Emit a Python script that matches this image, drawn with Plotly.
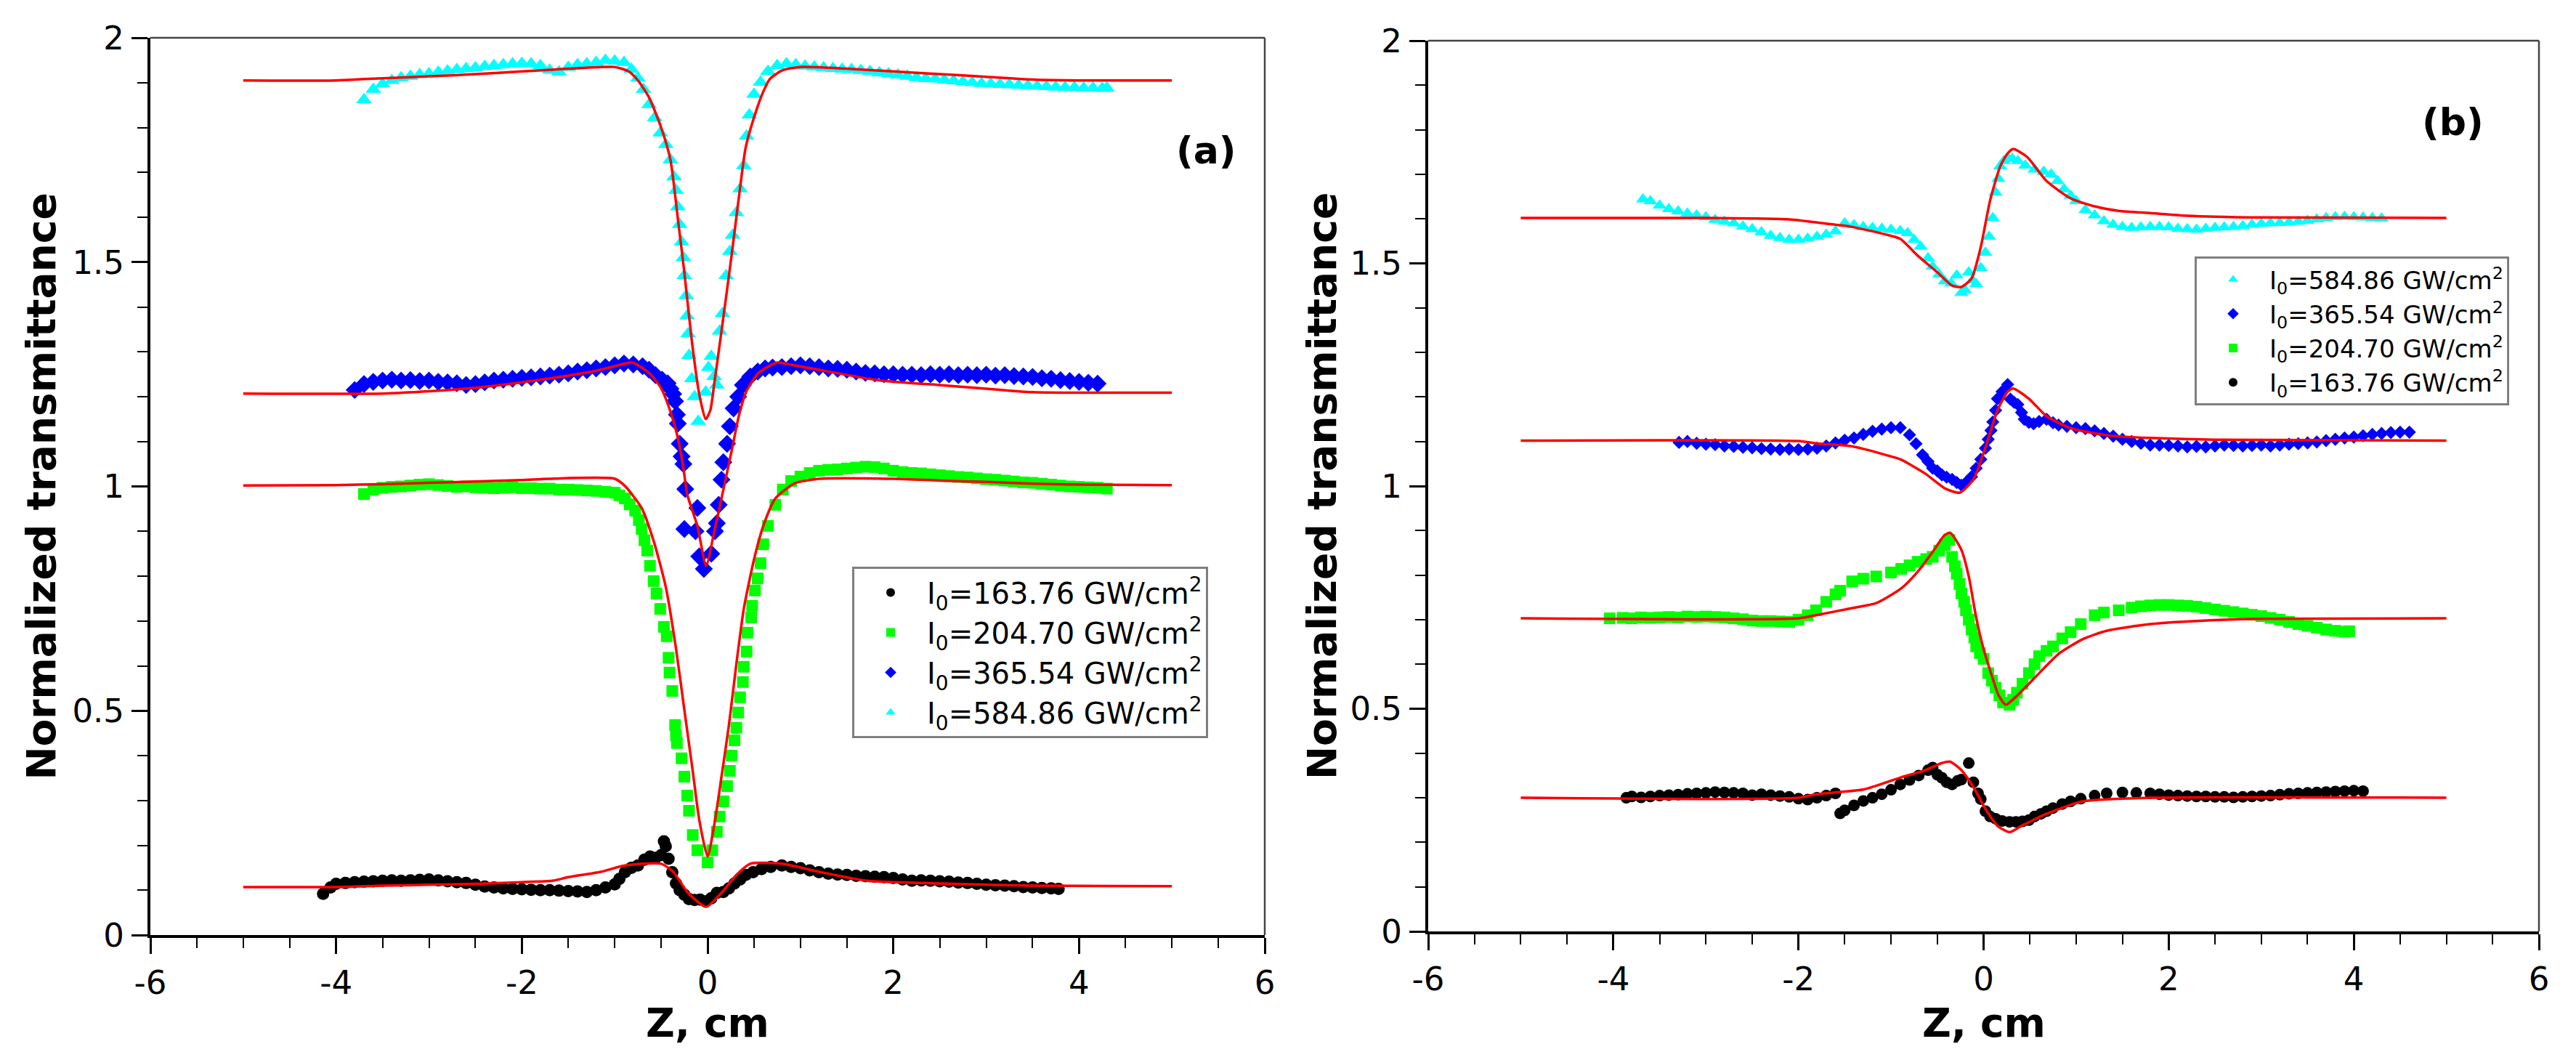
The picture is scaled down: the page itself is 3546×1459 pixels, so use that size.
#!/usr/bin/env python3
"""
Z-scan traces: open aperture (a) and closed aperture (b), four peak
intensities each, measured points with the fitted curves in red.
"""

import plotly.graph_objects as go

# ---- panel (a): (z, cm ; normalized transmittance) ----
A_163 = [(-4.14, 0.092), (-4.06, 0.106), (-4.00, 0.114), (-3.90, 0.116), (-3.80, 0.118), (-3.70, 0.119),
         (-3.60, 0.120), (-3.50, 0.121), (-3.40, 0.122), (-3.30, 0.121), (-3.20, 0.122), (-3.10, 0.123),
         (-3.00, 0.124), (-2.90, 0.122), (-2.80, 0.120), (-2.70, 0.118), (-2.60, 0.116), (-2.50, 0.112),
         (-2.40, 0.108), (-2.30, 0.106), (-2.20, 0.104), (-2.10, 0.103), (-2.00, 0.102), (-1.90, 0.101),
         (-1.80, 0.100), (-1.70, 0.100), (-1.60, 0.099), (-1.50, 0.098), (-1.40, 0.097), (-1.30, 0.096),
         (-1.20, 0.100), (-1.10, 0.106), (-1.00, 0.113), (-0.95, 0.125), (-0.89, 0.140), (-0.82, 0.150),
         (-0.75, 0.155), (-0.68, 0.168), (-0.62, 0.175), (-0.56, 0.172), (-0.50, 0.178), (-0.47, 0.209),
         (-0.45, 0.198), (-0.42, 0.170), (-0.38, 0.140), (-0.34, 0.115), (-0.30, 0.100), (-0.25, 0.090),
         (-0.20, 0.080), (-0.14, 0.078), (-0.08, 0.079), (-0.02, 0.075), (0.04, 0.082), (0.10, 0.094),
         (0.17, 0.096), (0.23, 0.104), (0.29, 0.115), (0.35, 0.124), (0.41, 0.134), (0.49, 0.140),
         (0.58, 0.147), (0.68, 0.152), (0.80, 0.155), (0.90, 0.152), (1.00, 0.149), (1.10, 0.144),
         (1.20, 0.140), (1.30, 0.137), (1.40, 0.135), (1.50, 0.134), (1.60, 0.132), (1.70, 0.131),
         (1.80, 0.130), (1.90, 0.129), (2.00, 0.127), (2.10, 0.124), (2.20, 0.121), (2.30, 0.122),
         (2.40, 0.121), (2.50, 0.120), (2.60, 0.119), (2.70, 0.117), (2.80, 0.116), (2.90, 0.114),
         (3.00, 0.112), (3.10, 0.111), (3.20, 0.110), (3.30, 0.109), (3.40, 0.107), (3.50, 0.106),
         (3.60, 0.105), (3.70, 0.104), (3.78, 0.103)]
A_204 = [(-3.70, 0.983), (-3.60, 0.993), (-3.50, 0.997), (-3.40, 0.999), (-3.30, 1.000), (-3.20, 1.002),
         (-3.10, 1.004), (-3.00, 1.005), (-2.90, 1.003), (-2.80, 1.001), (-2.70, 0.999), (-2.60, 1.000),
         (-2.50, 0.998), (-2.40, 0.997), (-2.30, 0.996), (-2.20, 0.997), (-2.10, 0.998), (-2.00, 0.996),
         (-1.90, 0.996), (-1.80, 0.995), (-1.70, 0.995), (-1.60, 0.993), (-1.50, 0.993), (-1.40, 0.992),
         (-1.30, 0.991), (-1.20, 0.990), (-1.10, 0.988), (-1.00, 0.986), (-0.95, 0.980), (-0.89, 0.973),
         (-0.84, 0.960), (-0.78, 0.946), (-0.74, 0.925), (-0.71, 0.905), (-0.68, 0.880), (-0.65, 0.857),
         (-0.62, 0.823), (-0.58, 0.789), (-0.55, 0.761), (-0.51, 0.727), (-0.47, 0.687), (-0.44, 0.666),
         (-0.42, 0.618), (-0.41, 0.585), (-0.38, 0.544), (-0.35, 0.468), (-0.34, 0.445), (-0.33, 0.428),
         (-0.28, 0.394), (-0.25, 0.353), (-0.22, 0.311), (-0.20, 0.277), (-0.16, 0.223), (-0.11, 0.189),
         (0.00, 0.162), (0.05, 0.189), (0.10, 0.230), (0.13, 0.264), (0.17, 0.298), (0.21, 0.332),
         (0.24, 0.366), (0.26, 0.400), (0.29, 0.434), (0.31, 0.462), (0.33, 0.496), (0.35, 0.530),
         (0.38, 0.564), (0.39, 0.598), (0.42, 0.632), (0.43, 0.674), (0.47, 0.708), (0.48, 0.734),
         (0.51, 0.768), (0.54, 0.795), (0.57, 0.829), (0.60, 0.871), (0.65, 0.912), (0.73, 0.959),
         (0.81, 0.993), (0.90, 1.012), (1.00, 1.022), (1.10, 1.030), (1.20, 1.035), (1.30, 1.037),
         (1.40, 1.038), (1.50, 1.040), (1.60, 1.042), (1.70, 1.044), (1.80, 1.043), (1.90, 1.040),
         (2.00, 1.035), (2.10, 1.032), (2.20, 1.030), (2.30, 1.029), (2.40, 1.027), (2.50, 1.025),
         (2.60, 1.023), (2.70, 1.021), (2.80, 1.020), (2.90, 1.018), (3.00, 1.016), (3.10, 1.015),
         (3.20, 1.013), (3.30, 1.011), (3.40, 1.009), (3.50, 1.008), (3.60, 1.006), (3.70, 1.004),
         (3.80, 1.002), (3.90, 1.000), (4.00, 0.999), (4.10, 0.998), (4.20, 0.997), (4.30, 0.995)]
A_365 = [(-3.80, 1.215), (-3.70, 1.228), (-3.60, 1.233), (-3.50, 1.236), (-3.40, 1.238), (-3.30, 1.236),
         (-3.20, 1.237), (-3.10, 1.235), (-3.00, 1.236), (-2.90, 1.233), (-2.80, 1.232), (-2.70, 1.230),
         (-2.60, 1.226), (-2.50, 1.228), (-2.40, 1.232), (-2.30, 1.236), (-2.20, 1.238), (-2.10, 1.240),
         (-2.00, 1.242), (-1.90, 1.243), (-1.80, 1.245), (-1.70, 1.247), (-1.60, 1.249), (-1.50, 1.252),
         (-1.40, 1.256), (-1.30, 1.259), (-1.20, 1.263), (-1.10, 1.266), (-1.00, 1.270), (-0.90, 1.274),
         (-0.80, 1.272), (-0.70, 1.268), (-0.63, 1.260), (-0.56, 1.248), (-0.49, 1.238), (-0.43, 1.230),
         (-0.40, 1.218), (-0.37, 1.206), (-0.35, 1.190), (-0.33, 1.160), (-0.32, 1.140), (-0.30, 1.095),
         (-0.28, 1.067), (-0.26, 1.050), (-0.24, 0.994), (-0.25, 0.905), (-0.11, 0.952), (-0.13, 0.900),
         (-0.09, 0.844), (-0.04, 0.816), (0.04, 0.850), (0.08, 0.900), (0.10, 0.918), (0.12, 0.959),
         (0.15, 1.015), (0.17, 1.054), (0.21, 1.095), (0.24, 1.134), (0.28, 1.174), (0.33, 1.200),
         (0.38, 1.226), (0.46, 1.245), (0.54, 1.256), (0.62, 1.263), (0.70, 1.265), (0.80, 1.266),
         (0.90, 1.268), (1.00, 1.270), (1.10, 1.268), (1.20, 1.266), (1.30, 1.263), (1.40, 1.262),
         (1.50, 1.260), (1.60, 1.256), (1.70, 1.253), (1.80, 1.252), (1.90, 1.250), (2.00, 1.250),
         (2.10, 1.249), (2.20, 1.249), (2.30, 1.248), (2.40, 1.250), (2.50, 1.249), (2.60, 1.250),
         (2.70, 1.248), (2.80, 1.249), (2.90, 1.248), (3.00, 1.249), (3.10, 1.247), (3.20, 1.248),
         (3.30, 1.246), (3.40, 1.245), (3.50, 1.244), (3.60, 1.241), (3.70, 1.240), (3.80, 1.237),
         (3.90, 1.235), (4.00, 1.233), (4.10, 1.231), (4.20, 1.229)]
A_584 = [(-3.70, 1.862), (-3.60, 1.885), (-3.50, 1.897), (-3.40, 1.905), (-3.30, 1.911), (-3.20, 1.914),
         (-3.10, 1.918), (-3.00, 1.920), (-2.90, 1.923), (-2.80, 1.926), (-2.70, 1.929), (-2.60, 1.931),
         (-2.50, 1.933), (-2.40, 1.936), (-2.30, 1.938), (-2.20, 1.940), (-2.10, 1.942), (-2.00, 1.943),
         (-1.90, 1.942), (-1.80, 1.938), (-1.70, 1.928), (-1.60, 1.924), (-1.50, 1.934), (-1.40, 1.940),
         (-1.30, 1.942), (-1.20, 1.945), (-1.10, 1.950), (-1.00, 1.948), (-0.90, 1.945), (-0.82, 1.930),
         (-0.75, 1.910), (-0.69, 1.885), (-0.63, 1.851), (-0.57, 1.822), (-0.51, 1.788), (-0.45, 1.762),
         (-0.40, 1.728), (-0.36, 1.690), (-0.34, 1.660), (-0.32, 1.623), (-0.30, 1.584), (-0.28, 1.545),
         (-0.26, 1.510), (-0.25, 1.470), (-0.23, 1.425), (-0.22, 1.380), (-0.21, 1.340), (-0.20, 1.292),
         (-0.17, 1.240), (-0.14, 1.200), (-0.10, 1.145), (-0.02, 1.210), (0.01, 1.265), (0.04, 1.290),
         (0.07, 1.245), (0.10, 1.226), (0.13, 1.346), (0.16, 1.385), (0.20, 1.470), (0.24, 1.524),
         (0.27, 1.560), (0.31, 1.610), (0.35, 1.663), (0.39, 1.715), (0.42, 1.781), (0.45, 1.828),
         (0.50, 1.874), (0.57, 1.901), (0.65, 1.925), (0.75, 1.938), (0.85, 1.942), (0.95, 1.940),
         (1.05, 1.937), (1.15, 1.935), (1.25, 1.933), (1.35, 1.931), (1.45, 1.930), (1.55, 1.929),
         (1.65, 1.927), (1.75, 1.925), (1.85, 1.922), (1.95, 1.920), (2.05, 1.917), (2.15, 1.914),
         (2.25, 1.911), (2.35, 1.909), (2.45, 1.908), (2.55, 1.906), (2.65, 1.904), (2.75, 1.902),
         (2.85, 1.900), (2.95, 1.898), (3.05, 1.897), (3.15, 1.896), (3.25, 1.895), (3.35, 1.894),
         (3.45, 1.893), (3.55, 1.892), (3.65, 1.891), (3.75, 1.890), (3.85, 1.889), (3.95, 1.889),
         (4.05, 1.888), (4.15, 1.888), (4.25, 1.887), (4.30, 1.888)]

A_FIT_163 = [(-5.0, 0.107), (-4.0, 0.107), (-3.5, 0.110), (-3.0, 0.112), (-2.5, 0.114), (-2.0, 0.118),
             (-1.67, 0.121), (-1.5, 0.129), (-1.15, 0.141), (-0.89, 0.155), (-0.50, 0.159), (-0.37, 0.141),
             (-0.21, 0.094), (-0.015, 0.063), (0.15, 0.094), (0.31, 0.134), (0.46, 0.159), (0.80, 0.159),
             (1.20, 0.141), (1.72, 0.121), (2.50, 0.115), (3.50, 0.110), (5.00, 0.109)]
A_FIT_204 = [(-5.0, 1.002), (-4.0, 1.003), (-3.5, 1.005), (-3.0, 1.008), (-2.5, 1.011), (-2.0, 1.014),
             (-1.7, 1.017), (-1.0, 1.017), (-0.89, 1.001), (-0.71, 0.952), (-0.58, 0.878), (-0.45, 0.776),
             (-0.34, 0.639), (-0.25, 0.502), (-0.16, 0.366), (-0.09, 0.257), (0.00, 0.175), (0.07, 0.243),
             (0.15, 0.353), (0.23, 0.468), (0.31, 0.604), (0.39, 0.727), (0.50, 0.837), (0.60, 0.912),
             (0.73, 0.973), (0.94, 1.007), (1.20, 1.017), (2.00, 1.017), (2.50, 1.013), (3.00, 1.010),
             (3.50, 1.006), (4.00, 1.004), (5.00, 1.003)]
A_FIT_365 = [(-5.0, 1.207), (-3.5, 1.207), (-3.0, 1.212), (-2.5, 1.220), (-2.0, 1.232), (-1.5, 1.247),
             (-1.2, 1.258), (-1.0, 1.268), (-0.81, 1.276), (-0.63, 1.253), (-0.50, 1.219), (-0.40, 1.167),
             (-0.32, 1.108), (-0.26, 1.041), (-0.22, 0.983), (-0.11, 0.912), (-0.015, 0.823), (0.07, 0.897),
             (0.16, 0.983), (0.26, 1.080), (0.34, 1.160), (0.42, 1.213), (0.55, 1.253), (0.75, 1.276),
             (0.93, 1.270), (1.20, 1.260), (1.86, 1.236), (2.50, 1.226), (3.00, 1.218), (3.50, 1.210),
             (5.00, 1.209)]
A_FIT_584 = [(-5.0, 1.905), (-4.0, 1.905), (-3.7, 1.908), (-3.0, 1.914), (-2.5, 1.919), (-2.0, 1.925),
             (-1.5, 1.931), (-1.0, 1.935), (-0.85, 1.925), (-0.75, 1.905), (-0.63, 1.867), (-0.50, 1.800),
             (-0.40, 1.728), (-0.32, 1.597), (-0.25, 1.477), (-0.17, 1.325), (-0.09, 1.206), (-0.02, 1.150),
             (0.03, 1.170), (0.07, 1.226), (0.15, 1.346), (0.26, 1.517), (0.34, 1.649), (0.41, 1.755),
             (0.52, 1.835), (0.60, 1.880), (0.67, 1.908), (0.80, 1.927), (1.00, 1.935), (1.50, 1.931),
             (2.00, 1.925), (2.50, 1.919), (3.00, 1.913), (3.50, 1.907), (4.00, 1.905), (5.00, 1.905)]

# ---- panel (b) ----
B_163 = [(-3.86, 0.300), (-3.80, 0.303), (-3.70, 0.301), (-3.60, 0.303), (-3.50, 0.305), (-3.40, 0.306),
         (-3.30, 0.307), (-3.20, 0.309), (-3.10, 0.310), (-3.00, 0.311), (-2.90, 0.313), (-2.80, 0.312),
         (-2.70, 0.311), (-2.60, 0.310), (-2.50, 0.306), (-2.40, 0.308), (-2.30, 0.306), (-2.20, 0.304),
         (-2.10, 0.302), (-2.00, 0.298), (-1.90, 0.296), (-1.80, 0.300), (-1.70, 0.305), (-1.60, 0.310),
         (-1.55, 0.265), (-1.50, 0.272), (-1.40, 0.283), (-1.30, 0.293), (-1.20, 0.300), (-1.10, 0.308),
         (-1.00, 0.318), (-0.90, 0.330), (-0.80, 0.340), (-0.70, 0.350), (-0.60, 0.362), (-0.55, 0.368),
         (-0.50, 0.352), (-0.45, 0.345), (-0.40, 0.335), (-0.34, 0.330), (-0.28, 0.338), (-0.24, 0.341),
         (-0.16, 0.378), (-0.11, 0.335), (-0.06, 0.310), (-0.03, 0.297), (0.02, 0.270), (0.07, 0.258),
         (0.13, 0.253), (0.20, 0.248), (0.28, 0.246), (0.35, 0.246), (0.42, 0.247), (0.49, 0.250),
         (0.55, 0.258), (0.62, 0.264), (0.68, 0.270), (0.75, 0.277), (0.85, 0.286), (0.94, 0.292),
         (1.05, 0.298), (1.20, 0.305), (1.33, 0.310), (1.50, 0.312), (1.65, 0.311), (1.80, 0.310),
         (1.90, 0.308), (2.00, 0.306), (2.10, 0.305), (2.20, 0.304), (2.30, 0.303), (2.40, 0.303),
         (2.50, 0.302), (2.60, 0.302), (2.70, 0.301), (2.80, 0.302), (2.90, 0.303), (3.00, 0.304),
         (3.10, 0.305), (3.20, 0.307), (3.30, 0.309), (3.40, 0.310), (3.50, 0.311), (3.60, 0.312),
         (3.70, 0.313), (3.80, 0.314), (3.90, 0.315), (4.00, 0.316), (4.10, 0.315)]
B_204 = [(-4.04, 0.703), (-3.90, 0.704), (-3.80, 0.703), (-3.70, 0.705), (-3.60, 0.704), (-3.50, 0.705),
         (-3.40, 0.706), (-3.30, 0.705), (-3.20, 0.707), (-3.10, 0.706), (-3.00, 0.707), (-2.90, 0.706),
         (-2.80, 0.705), (-2.70, 0.703), (-2.60, 0.701), (-2.50, 0.698), (-2.40, 0.697), (-2.30, 0.697),
         (-2.20, 0.696), (-2.10, 0.695), (-2.00, 0.700), (-1.90, 0.710), (-1.81, 0.721), (-1.70, 0.740),
         (-1.60, 0.757), (-1.55, 0.765), (-1.42, 0.786), (-1.30, 0.792), (-1.16, 0.797), (-1.00, 0.806),
         (-0.89, 0.814), (-0.80, 0.822), (-0.71, 0.830), (-0.62, 0.836), (-0.55, 0.841), (-0.48, 0.855),
         (-0.42, 0.868), (-0.37, 0.879), (-0.34, 0.841), (-0.31, 0.820), (-0.29, 0.803), (-0.26, 0.780),
         (-0.24, 0.759), (-0.21, 0.740), (-0.19, 0.721), (-0.16, 0.700), (-0.13, 0.678), (-0.10, 0.660),
         (-0.08, 0.640), (-0.04, 0.625), (0.00, 0.612), (0.05, 0.580), (0.09, 0.563), (0.13, 0.547),
         (0.17, 0.530), (0.21, 0.514), (0.28, 0.509), (0.32, 0.520), (0.36, 0.536), (0.42, 0.556),
         (0.49, 0.580), (0.55, 0.600), (0.60, 0.618), (0.68, 0.630), (0.75, 0.640), (0.85, 0.658),
         (0.94, 0.672), (1.05, 0.690), (1.20, 0.710), (1.30, 0.716), (1.46, 0.721), (1.60, 0.727),
         (1.70, 0.730), (1.80, 0.732), (1.90, 0.733), (2.00, 0.733), (2.10, 0.732), (2.20, 0.731),
         (2.30, 0.729), (2.40, 0.726), (2.50, 0.723), (2.60, 0.720), (2.70, 0.717), (2.80, 0.714),
         (2.90, 0.711), (3.00, 0.708), (3.10, 0.704), (3.20, 0.700), (3.30, 0.695), (3.40, 0.690),
         (3.50, 0.686), (3.60, 0.682), (3.70, 0.678), (3.80, 0.675), (3.90, 0.673), (3.95, 0.674)]
B_365 = [(-3.29, 1.098), (-3.20, 1.100), (-3.10, 1.096), (-3.00, 1.094), (-2.90, 1.093), (-2.80, 1.090),
         (-2.70, 1.089), (-2.60, 1.087), (-2.50, 1.086), (-2.40, 1.084), (-2.30, 1.083), (-2.20, 1.082),
         (-2.10, 1.083), (-2.00, 1.082), (-1.90, 1.083), (-1.80, 1.085), (-1.70, 1.090), (-1.60, 1.097),
         (-1.50, 1.103), (-1.40, 1.108), (-1.30, 1.116), (-1.20, 1.123), (-1.10, 1.128), (-1.00, 1.131),
         (-0.90, 1.131), (-0.80, 1.115), (-0.73, 1.095), (-0.66, 1.070), (-0.60, 1.055), (-0.55, 1.040),
         (-0.50, 1.034), (-0.45, 1.025), (-0.40, 1.020), (-0.34, 1.015), (-0.29, 1.008), (-0.24, 1.002),
         (-0.18, 1.010), (-0.13, 1.021), (-0.08, 1.040), (-0.03, 1.060), (0.02, 1.085), (0.05, 1.105),
         (0.08, 1.125), (0.10, 1.144), (0.13, 1.170), (0.15, 1.196), (0.20, 1.212), (0.26, 1.228),
         (0.29, 1.195), (0.33, 1.188), (0.37, 1.183), (0.41, 1.165), (0.44, 1.150), (0.49, 1.143),
         (0.54, 1.140), (0.60, 1.145), (0.68, 1.150), (0.75, 1.142), (0.81, 1.137), (0.90, 1.134),
         (1.00, 1.131), (1.10, 1.129), (1.20, 1.124), (1.30, 1.118), (1.40, 1.112), (1.50, 1.105),
         (1.60, 1.100), (1.70, 1.096), (1.80, 1.092), (1.90, 1.092), (2.00, 1.091), (2.10, 1.090),
         (2.20, 1.088), (2.30, 1.089), (2.40, 1.088), (2.50, 1.090), (2.60, 1.092), (2.70, 1.091),
         (2.80, 1.090), (2.90, 1.091), (3.00, 1.092), (3.10, 1.090), (3.20, 1.092), (3.30, 1.094),
         (3.40, 1.095), (3.50, 1.097), (3.60, 1.099), (3.70, 1.102), (3.80, 1.105), (3.90, 1.108),
         (4.00, 1.110), (4.10, 1.113), (4.20, 1.116), (4.30, 1.118), (4.40, 1.120), (4.50, 1.121),
         (4.60, 1.121)]
B_584 = [(-3.68, 1.644), (-3.60, 1.640), (-3.50, 1.630), (-3.40, 1.622), (-3.30, 1.617), (-3.20, 1.612),
         (-3.10, 1.608), (-3.00, 1.604), (-2.90, 1.598), (-2.80, 1.594), (-2.70, 1.590), (-2.60, 1.583),
         (-2.50, 1.577), (-2.40, 1.570), (-2.30, 1.562), (-2.20, 1.557), (-2.10, 1.553), (-2.00, 1.553),
         (-1.90, 1.556), (-1.80, 1.560), (-1.70, 1.565), (-1.60, 1.572), (-1.50, 1.590), (-1.40, 1.586),
         (-1.30, 1.582), (-1.20, 1.580), (-1.10, 1.578), (-1.00, 1.576), (-0.90, 1.573), (-0.82, 1.568),
         (-0.75, 1.553), (-0.68, 1.538), (-0.60, 1.512), (-0.55, 1.493), (-0.48, 1.475), (-0.42, 1.460),
         (-0.35, 1.455), (-0.29, 1.473), (-0.24, 1.434), (-0.20, 1.440), (-0.16, 1.480), (-0.12, 1.462),
         (-0.08, 1.454), (-0.03, 1.490), (0.02, 1.524), (0.06, 1.560), (0.10, 1.602), (0.13, 1.659),
         (0.16, 1.690), (0.18, 1.718), (0.22, 1.730), (0.26, 1.737), (0.31, 1.735), (0.37, 1.730),
         (0.45, 1.720), (0.55, 1.711), (0.65, 1.706), (0.73, 1.700), (0.80, 1.685), (0.87, 1.667),
         (0.94, 1.652), (1.00, 1.640), (1.10, 1.620), (1.20, 1.608), (1.30, 1.595), (1.40, 1.587),
         (1.50, 1.582), (1.60, 1.580), (1.70, 1.581), (1.80, 1.582), (1.90, 1.582), (2.00, 1.581),
         (2.10, 1.578), (2.20, 1.577), (2.30, 1.576), (2.40, 1.578), (2.50, 1.580), (2.60, 1.581),
         (2.70, 1.582), (2.80, 1.584), (2.90, 1.587), (3.00, 1.589), (3.10, 1.590), (3.20, 1.591),
         (3.30, 1.592), (3.40, 1.594), (3.50, 1.596), (3.60, 1.599), (3.70, 1.602), (3.80, 1.604),
         (3.90, 1.605), (4.00, 1.604), (4.10, 1.603), (4.20, 1.602), (4.30, 1.601)]

B_FIT_163 = [(-5.0, 0.300), (-2.0, 0.300), (-1.81, 0.308), (-1.29, 0.319), (-0.89, 0.346), (-0.63, 0.362),
             (-0.45, 0.378), (-0.36, 0.381), (-0.24, 0.362), (-0.11, 0.324), (0.02, 0.275), (0.15, 0.237),
             (0.28, 0.223), (0.41, 0.237), (0.68, 0.264), (1.07, 0.292), (1.80, 0.300), (5.00, 0.300)]
B_FIT_204 = [(-5.0, 0.703), (-2.0, 0.703), (-1.81, 0.710), (-1.42, 0.726), (-1.16, 0.737), (-0.89, 0.770),
             (-0.71, 0.808), (-0.55, 0.852), (-0.42, 0.890), (-0.36, 0.895), (-0.24, 0.857), (-0.16, 0.797),
             (-0.08, 0.705), (0.00, 0.634), (0.08, 0.580), (0.16, 0.531), (0.24, 0.509), (0.37, 0.531),
             (0.55, 0.569), (0.81, 0.623), (1.07, 0.656), (1.33, 0.675), (1.80, 0.690), (2.50, 0.699),
             (3.00, 0.702), (5.00, 0.703)]
B_FIT_365 = [(-5.0, 1.102), (-2.0, 1.101), (-1.81, 1.096), (-1.45, 1.090), (-1.29, 1.083), (-1.06, 1.070),
             (-0.90, 1.060), (-0.63, 1.028), (-0.42, 0.995), (-0.26, 0.985), (-0.11, 1.015), (0.02, 1.086),
             (0.15, 1.170), (0.26, 1.212), (0.32, 1.219), (0.49, 1.196), (0.68, 1.157), (0.94, 1.130),
             (1.33, 1.114), (1.80, 1.108), (2.50, 1.104), (5.00, 1.102)]
B_FIT_584 = [(-5.0, 1.602), (-3.0, 1.602), (-2.12, 1.599), (-1.81, 1.592), (-1.45, 1.583), (-1.29, 1.576),
             (-1.06, 1.565), (-0.90, 1.555), (-0.71, 1.517), (-0.50, 1.480), (-0.34, 1.450), (-0.24, 1.447),
             (-0.13, 1.466), (-0.03, 1.537), (0.07, 1.641), (0.18, 1.718), (0.26, 1.747), (0.32, 1.757),
             (0.47, 1.739), (0.68, 1.685), (0.94, 1.646), (1.20, 1.628), (1.46, 1.618), (1.80, 1.613),
             (2.20, 1.607), (3.00, 1.603), (5.00, 1.602)]

X_TICKS = [-6, -4, -2, 0, 2, 4, 6]
X_TICK_TEXT = ['-6', '-4', '-2', '0', '2', '4', '6']
Y_TICKS = [0, 0.5, 1, 1.5, 2]
Y_TICK_TEXT = ['0', '0.5', '1', '1.5', '2']

LABELS = {
    '163': 'I<sub>0</sub>=163.76 GW/cm<sup>2</sup>',
    '204': 'I<sub>0</sub>=204.70 GW/cm<sup>2</sup>',
    '365': 'I<sub>0</sub>=365.54 GW/cm<sup>2</sup>',
    '584': 'I<sub>0</sub>=584.86 GW/cm<sup>2</sup>',
}
STYLE = {
    '163': ('circle', '#000000'),
    '204': ('square', '#00ff00'),
    '365': ('diamond', '#0000ff'),
    '584': ('triangle-up', '#00ffff'),
}

FONT = 'DejaVu Sans'
W, H = 3546, 1459
OFF = 8  # the page body margin shifts the figure by this much


def fx(px):
    return (px - OFF) / W


def fy(py):
    return 1 - (py - OFF) / H


fig = go.Figure()


def add_points(pts, key, size, xa, ya, legend):
    z, t = zip(*pts)
    symbol, color = STYLE[key]
    fig.add_trace(go.Scatter(
        x=z, y=t, mode='markers', name=LABELS[key],
        marker=dict(symbol=symbol, size=size, color=color, line=dict(width=0)),
        xaxis=xa, yaxis=ya, legend=legend,
    ))


def add_fit(pts, xa, ya):
    z, t = zip(*pts)
    fig.add_trace(go.Scatter(
        x=z, y=t, mode='lines', showlegend=False,
        line=dict(color='#ff0000', width=3.5, shape='spline', smoothing=0.6),
        xaxis=xa, yaxis=ya,
    ))


# panel (a): legend lists lowest intensity first
add_points(A_163, '163', 17, 'x', 'y', 'legend')
add_points(A_204, '204', 16, 'x', 'y', 'legend')
add_points(A_365, '365', 19, 'x', 'y', 'legend')
add_points(A_584, '584', 19, 'x', 'y', 'legend')
for pts in (A_FIT_163, A_FIT_204, A_FIT_365, A_FIT_584):
    add_fit(pts, 'x', 'y')

# panel (b): legend lists highest intensity first
add_points(B_584, '584', 17, 'x2', 'y2', 'legend2')
add_points(B_365, '365', 14, 'x2', 'y2', 'legend2')
add_points(B_204, '204', 16, 'x2', 'y2', 'legend2')
add_points(B_163, '163', 16, 'x2', 'y2', 'legend2')
for pts in (B_FIT_163, B_FIT_204, B_FIT_365, B_FIT_584):
    add_fit(pts, 'x2', 'y2')

tick_font = dict(family=FONT, size=45, color='black')
xaxis_common = dict(
    range=[-6, 6], tickmode='array', tickvals=X_TICKS, ticktext=X_TICK_TEXT,
    ticks='outside', ticklen=22, tickwidth=3, tickcolor='black',
    minor=dict(tickmode='linear', tick0=-6, dtick=0.5, ticks='outside',
               ticklen=14, tickwidth=2, tickcolor='black'),
    showline=True, linewidth=4, linecolor='black', mirror=False,
    showgrid=False, zeroline=False, tickfont=tick_font, ticklabelstandoff=1,
    automargin=False,
)
yaxis_common = dict(
    range=[0, 2], tickmode='array', tickvals=Y_TICKS, ticktext=Y_TICK_TEXT,
    ticks='outside', ticklen=22, tickwidth=3, tickcolor='black',
    minor=dict(tickmode='linear', tick0=0, dtick=0.1, ticks='outside',
               ticklen=14, tickwidth=2, tickcolor='black'),
    showline=True, linewidth=4, linecolor='black', mirror=False,
    showgrid=False, zeroline=False, tickfont=tick_font, ticklabelstandoff=1,
    automargin=False,
)

legend_common = dict(
    xanchor='left', yanchor='top', bgcolor='white',
    bordercolor='#7f7f7f', borderwidth=3, itemwidth=90,
    traceorder='normal', itemsizing='constant',
)

title_font = dict(family=FONT, size=55, color='black', weight='bold')

fig.update_layout(
    width=W, height=H, autosize=False,
    margin=dict(l=0, r=0, t=0, b=0, pad=0),
    paper_bgcolor='white', plot_bgcolor='white',
    xaxis=dict(domain=[fx(207), fx(1741)], anchor='y', **xaxis_common),
    yaxis=dict(domain=[fy(1287), fy(52)], anchor='x', **yaxis_common),
    xaxis2=dict(domain=[fx(1966), fx(3495)], anchor='y2', **xaxis_common),
    yaxis2=dict(domain=[fy(1282), fy(56)], anchor='x2', **yaxis_common),
    legend=dict(x=fx(1173), y=fy(780),
                font=dict(family=FONT, size=40, color='black'), **legend_common),
    legend2=dict(x=fx(3021), y=fy(353),
                 font=dict(family=FONT, size=34, color='black'), **legend_common),
    showlegend=True,
)

# thin top / right frame of each panel
for xa, ya in (('x', 'y'), ('x2', 'y2')):
    fig.add_shape(type='line', xref=f'{xa} domain', yref=f'{ya} domain',
                  x0=0, x1=1, y0=1, y1=1, line=dict(color='#444444', width=2.5))
    fig.add_shape(type='line', xref=f'{xa} domain', yref=f'{ya} domain',
                  x0=1, x1=1, y0=0, y1=1, line=dict(color='#444444', width=2.5))

# axis titles and panel tags
for xa, ya, ytitle_x, tag, tag_x, tag_y in (('x', 'y', 57, '(a)', 5.37, 1.749),
                                             ('x2', 'y2', 1820, '(b)', 5.07, 1.817)):
    fig.add_annotation(text='Normalized transmittance', textangle=-90,
                       xref='paper', yref=f'{ya} domain', x=fx(ytitle_x), y=0.5,
                       xanchor='center', yanchor='middle',
                       showarrow=False, font=title_font)
    fig.add_annotation(text='Z, cm', xref=xa, yref='paper', x=0, y=fy(1408),
                       xanchor='center', yanchor='middle',
                       showarrow=False, font=title_font)
    fig.add_annotation(text=tag, xref=xa, yref=ya, x=tag_x, y=tag_y,
                       xanchor='center', yanchor='middle',
                       showarrow=False, font=dict(family=FONT, size=52, color='black', weight='bold'))

fig.write_html('out.html')
